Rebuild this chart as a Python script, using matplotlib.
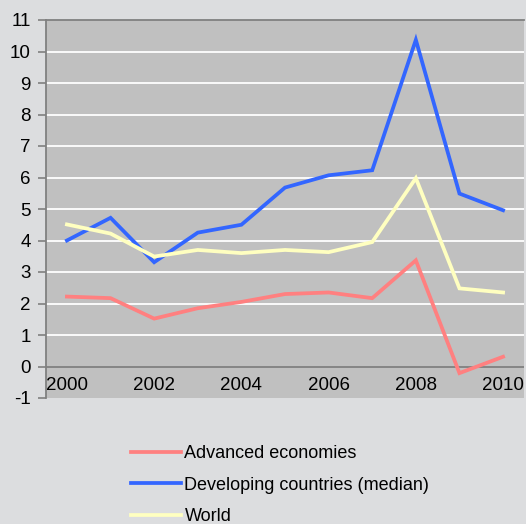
import matplotlib
matplotlib.use("Agg")
import matplotlib.pyplot as plt
from matplotlib.lines import Line2D

plt.rcParams['font.family'] = ['Liberation Sans', 'DejaVu Sans']

years = [2000, 2001, 2002, 2003, 2004, 2005, 2006, 2007, 2008, 2009, 2010]
advanced = [2.22, 2.17, 1.52, 1.85, 2.05, 2.30, 2.35, 2.17, 3.37, -0.21, 0.31]
developing = [4.00, 4.72, 3.31, 4.25, 4.50, 5.68, 6.07, 6.23, 10.37, 5.49, 4.96]
world = [4.51, 4.22, 3.49, 3.70, 3.60, 3.70, 3.63, 3.95, 5.98, 2.48, 2.35]
series_names = ["Advanced economies", "Developing countries (median)", "World"]
colors = ["#FF8080", "#3366FF", "#FFFFC0"]
y_ticks = list(range(-1, 12))
x_labels = [2000, 2002, 2004, 2006, 2008, 2010]

fig = plt.figure(figsize=(5.26, 5.24), dpi=100)
fig.patch.set_facecolor("#DCDDDF")
W, H = 526, 524
ax = fig.add_axes([46 / W, 1 - 398 / H, (524 - 46) / W, (398 - 20) / H])
ax.set_facecolor("#C0C0C0")

pos = list(range(len(years)))
for vals, c in zip([advanced, developing, world], colors):
    ax.plot(pos, vals, color=c, lw=2.7, solid_joinstyle="miter", zorder=3)

ax.set_xlim(-0.48, 10.48)
ax.set_ylim(-1, 11)
ax.set_yticks(y_ticks)
ax.set_yticklabels([str(v) for v in y_ticks], fontsize=13.5)
for v in y_ticks:
    if v not in (0, 11, -1):
        ax.axhline(v, color="white", lw=1.3, zorder=1)
ax.axhline(0, color="#808080", lw=1.3, zorder=2)

ax.set_xticks([])
for yr in x_labels:
    ax.text(years.index(yr), -0.6, str(yr), ha="center", va="center",
            fontsize=13.5, color="black", zorder=4)

for s in ["right", "bottom"]:
    ax.spines[s].set_visible(False)
for s in ["left", "top"]:
    ax.spines[s].set_color("#808080")
    ax.spines[s].set_linewidth(1.3)
ax.tick_params(axis="y", direction="out", length=6, width=1.2, color="#808080", pad=5)

handles = [Line2D([0], [0], color=c, lw=2.7) for c in colors]
fig.legend(handles, series_names, loc="upper left",
           bbox_to_anchor=(124 / W, 1 - 438 / H), frameon=False,
           fontsize=13, handlelength=2.75, handletextpad=0.2,
           labelspacing=0.8, borderaxespad=0)

fig.savefig("out.png", dpi=100, facecolor=fig.get_facecolor())
